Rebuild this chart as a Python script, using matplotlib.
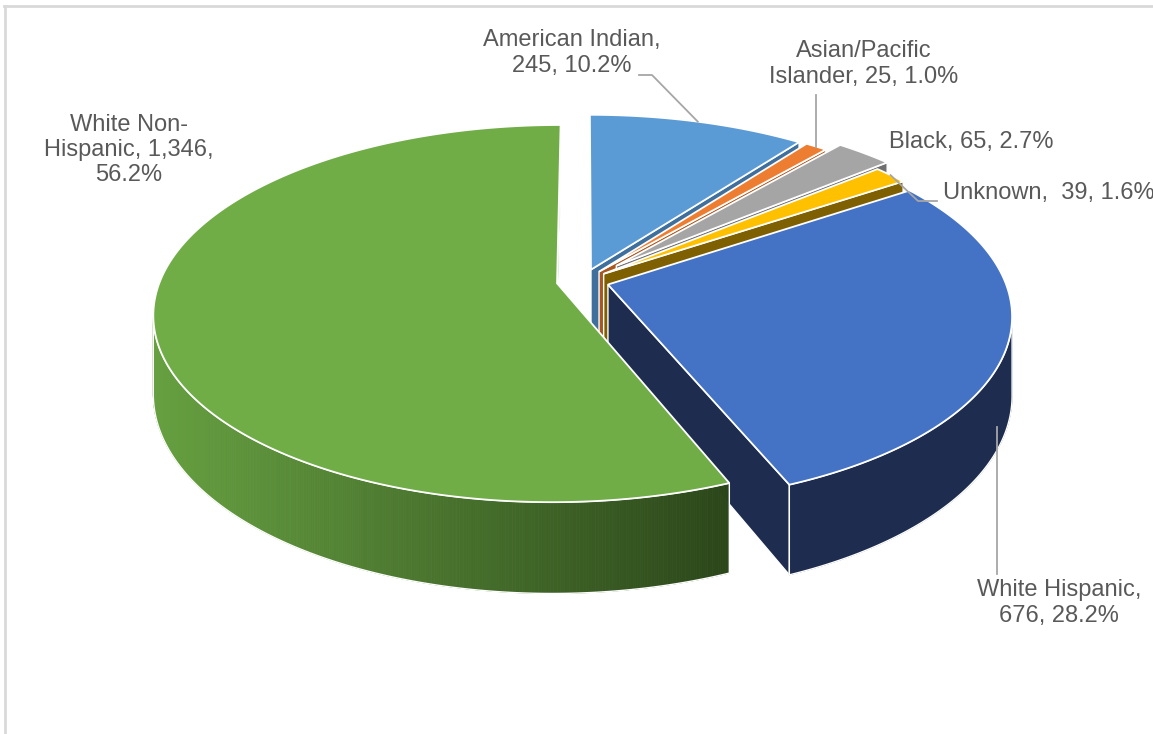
import numpy as np
import matplotlib.pyplot as plt
from matplotlib.patches import Polygon
from matplotlib.colors import to_rgb

# Data
categories = ['American Indian', 'Asian/Pacific Islander', 'Black', 'Unknown',
              'White Hispanic', 'White Non-Hispanic']
counts = [245, 25, 65, 39, 676, 1346]

# label text pieces (line breaks as in the original)
label_names = ['American Indian', 'Asian/Pacific\nIslander', 'Black', 'Unknown',
               'White Hispanic', 'White Non-\nHispanic']
sep1 = [',\n', ', ', ', ', ',  ', ',\n', ', ']
sep2 = [', ', ', ', ', ', ', ', ', ', ',\n']

top_colors = ['#5B9BD5', '#ED7D31', '#A5A5A5', '#FFC000', '#4472C4', '#70AD47']
side_colors = ['#3F6F9C', '#A9561F', '#6F6F6F', '#7F6000', '#1E2D4F', '#4A7A2C']
explode = [0.066, 0.066, 0.12, 0.066, 0.066, 0.066]

# 3D view settings (pixel space)
CX, CY, RX, RY, K, H = 582.8, 281.0, 397.0, 183.0, 0.16, 76.5
EYE = np.array([0.0, 1.0 / K])


def proj(u, v, drop=0.0):
    u = np.asarray(u, dtype=float)
    v = np.asarray(v, dtype=float)
    s = 1.0 / (1.0 - K * v)
    return np.column_stack([CX + RX * u * s, CY + (RY * v + drop) * s])


fig = plt.figure(figsize=(11.53, 7.34), dpi=100)
ax = fig.add_axes([0, 0, 1, 1])
ax.set_xlim(0, 1153)
ax.set_ylim(734, 0)
ax.axis('off')

# chart frame
ax.plot([4, 1153], [6, 6], color='#D9D9D9', lw=2, zorder=0)
ax.plot([5, 5], [6, 734], color='#D9D9D9', lw=2, zorder=0)

total = sum(counts)
fracs = np.array(counts) / total
ends = np.cumsum(fracs) * 2 * np.pi
starts = ends - fracs * 2 * np.pi

sides = []   # (depth, kind, data)
tops = []
anchors = []

for i in range(len(counts)):
    t0, t1 = starts[i], ends[i]
    m = (t0 + t1) / 2
    du, dv = explode[i] * np.sin(m), -explode[i] * np.cos(m)
    apex = np.array([du, dv])

    t = np.linspace(t0, t1, max(int((t1 - t0) / 0.005), 4))
    au, av = du + np.sin(t), dv - np.cos(t)
    top = np.vstack([proj([du], [dv]), proj(au, av)])
    tops.append((top, top_colors[i]))

    # outer point at mid angle for leader lines
    anchors.append((proj([du + np.sin(m)], [dv - np.cos(m)])[0],
                    proj([du + np.sin(m)], [dv - np.cos(m)], H)[0]))

    # radial faces
    for tt, sign in ((t0, -1), (t1, 1)):
        n = sign * np.array([np.cos(tt), np.sin(tt)])
        if np.dot(n, EYE - apex) > 1e-3 * (1.0 / K):
            ou, ov = du + np.sin(tt), dv - np.cos(tt)
            pts = np.vstack([proj([du], [dv]), proj([ou], [ov]),
                             proj([ou], [ov], H), proj([du], [dv], H)])
            sides.append(((dv + ov) / 2, 'face', (pts, side_colors[i])))

    # outer wall
    nrm = np.column_stack([np.sin(t), -np.cos(t)])
    rel = EYE - np.column_stack([au, av])
    vis = np.einsum('ij,ij->i', nrm, rel) > 0
    if vis.sum() > 1:
        wu, wv = au[vis], av[vis]
        topc = proj(wu, wv)
        botc = proj(wu, wv, H)
        sides.append((wv.mean() + 0.3, 'wall', (topc, botc, i)))

sides.sort(key=lambda s: s[0])

light = np.array(to_rgb('#66A040'))
dark = np.array(to_rgb('#2B461A'))

for depth, kind, d in sides:
    if kind == 'face':
        pts, col = d
        ax.add_patch(Polygon(pts, closed=True, fc=col, ec='white', lw=1.0, zorder=2))
    else:
        topc, botc, i = d
        if i == 5:
            xmin, xmax = topc[:, 0].min(), topc[:, 0].max()
            for j in range(len(topc) - 1):
                fr = ((topc[j, 0] + topc[j + 1, 0]) / 2 - xmin) / (xmax - xmin)
                col = light + (dark - light) * fr
                quad = np.vstack([topc[j], topc[j + 1], botc[j + 1], botc[j]])
                ax.add_patch(Polygon(quad, closed=True, fc=col, ec=col, lw=0.6, zorder=2))
        else:
            quad = np.vstack([topc, botc[::-1]])
            ax.add_patch(Polygon(quad, closed=True, fc=side_colors[i],
                                 ec=side_colors[i], lw=0.6, zorder=2))
        outline = np.vstack([topc, botc[::-1]])
        ax.add_patch(Polygon(outline, closed=True, fill=False, ec='white', lw=1.0, zorder=2))

for top, col in tops:
    ax.add_patch(Polygon(top, closed=True, fc=col, ec='white', lw=1.3, zorder=3))

# labels
labels = [f"{label_names[i]}{sep1[i]}{counts[i]:,}{sep2[i]}{fracs[i] * 100:.1f}%"
          for i in range(len(counts))]
label_pos = [(572, 53, 'center'), (864, 64, 'center'), (889, 142, 'left'),
             (943, 193, 'left'), (1059, 603, 'center'), (129, 150, 'center')]
font = dict(family='Liberation Sans', fontsize=17, color='#595959')
for i, (lx, ly, ha) in enumerate(label_pos):
    ax.text(lx, ly, labels[i], ha=ha, va='center', multialignment='center',
            linespacing=1.2, zorder=5, **font)

lead = dict(color='#A6A6A6', lw=1.3, zorder=4)
a_top = [a[0] for a in anchors]
a_bot = [a[1] for a in anchors]
# American Indian
ax.plot([639, 652, a_top[0][0]], [75, 75, a_top[0][1]], **lead)
# Asian/Pacific Islander
ax.plot([a_top[1][0], a_top[1][0]], [95, a_top[1][1]], **lead)
# Unknown
ax.plot([a_top[3][0], 918, 937], [a_top[3][1], 201, 201], **lead)
# White Hispanic
ax.plot([997, 997], [427, 574], **lead)

fig.savefig('out.png', dpi=100)
